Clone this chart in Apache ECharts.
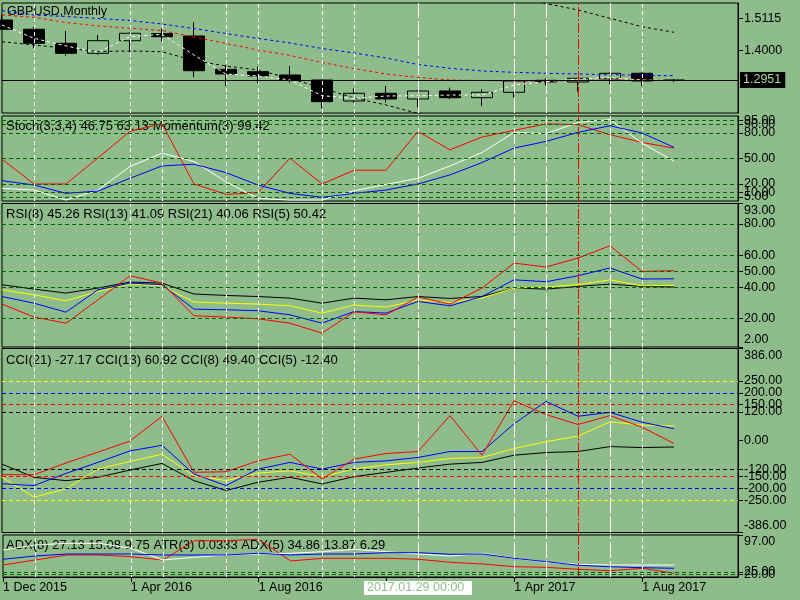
<!DOCTYPE html>
<html><head><meta charset="utf-8">
<script src="https://cdn.jsdelivr.net/npm/echarts@6/dist/echarts.min.js"></script>
<style>html,body{margin:0;padding:0;background:#8FBC8B;}#c{width:800px;height:600px;}</style>
</head><body><div id="c"></div>
<script>
// ---------- data ----------
const months = ['1 Dec 2015','1 Jan 2016','1 Feb 2016','1 Mar 2016','1 Apr 2016','1 May 2016','1 Jun 2016','1 Jul 2016','1 Aug 2016','1 Sep 2016','1 Oct 2016','1 Nov 2016','1 Dec 2016','1 Jan 2017','1 Feb 2017','1 Mar 2017','1 Apr 2017','1 May 2017','1 Jun 2017','1 Jul 2017','1 Aug 2017','1 Sep 2017','1 Oct 2017','1 Nov 2017'];
const opens  = [1.5061,1.4736,1.4242,1.3890,1.4333,1.4580,1.4498,1.3327,1.3243,1.3127,1.2951,1.2212,1.2483,1.2283,1.2564,1.2329,1.2518,1.2940,1.2880,1.2990,1.3187,1.2935];
const closes = [1.4736,1.4242,1.3890,1.4333,1.4594,1.4474,1.3278,1.3162,1.3092,1.2951,1.2188,1.2483,1.2283,1.2564,1.2329,1.2518,1.2916,1.2880,1.3011,1.3187,1.2916,1.2951];
const lows   = [1.4724,1.4066,1.3806,1.3836,1.3946,1.4298,1.3046,1.2740,1.2835,1.2856,1.1956,1.2150,1.2153,1.1986,1.2272,1.2037,1.2329,1.2760,1.2540,1.2800,1.2740,1.2870];
const highs  = [1.5241,1.4826,1.4674,1.4534,1.4620,1.4769,1.4980,1.3479,1.3420,1.3443,1.2970,1.2659,1.2740,1.2600,1.2680,1.2624,1.2940,1.3020,1.3030,1.3222,1.3222,1.2990];
const maBlue  = [1.5388,1.5237,1.5184,1.5114,1.5044,1.4921,1.4762,1.4586,1.4411,1.4252,1.4059,1.3901,1.3725,1.3496,1.3362,1.3268,1.3222,1.3187,1.3162,1.3137,1.3116,1.3102];
const maRed   = [1.5237,1.5156,1.4973,1.4850,1.4769,1.4692,1.4463,1.4235,1.4006,1.3813,1.3566,1.3355,1.3162,1.3039,1.2951,1.2933,1.2916,1.2916,1.2933,1.2951,1.2951,1.2933];
const maWhite = [1.4885,1.4418,1.4147,1.3925,1.4474,1.4558,1.3830,1.3162,1.3092,1.2951,1.2399,1.2307,1.2388,1.2399,1.2423,1.2423,1.2775,1.2891,1.2986,1.3032,1.2951,1.2926];
const bandLow  = [1.4298,1.4182,1.4066,1.3953,1.3971,1.3946,1.3637,1.3443,1.3303,1.3011,1.2670,1.2318,1.2072,1.1773,1.1615,null,null,null,null,null,null,null];
const bandHigh = [null,null,null,null,null,null,null,null,null,null,null,null,null,null,null,null,1.5941,1.5641,1.5413,1.5121,1.4826,1.4629];
const lastPrice = 1.2951;

const stochMain   = [14.9,12.9,1.1,12.9,40.5,56.3,46.4,22.7,3.1,1.1,1.1,12.1,19.4,26.7,41.3,57.0,80.7,79.2,92.5,95.7,68.2,46.75];
const stochSignal = [23.9,18.8,9.0,11.7,26.7,41.3,43.3,33.4,18.8,9.0,4.3,9.0,12.9,20.0,30.7,45.2,62.2,70.1,80.7,88.6,80.0,63.13];
const momentum    = [49.2,20.0,20.0,50.8,81.9,91.0,20.0,7.8,9.7,50.4,20.0,36.2,36.2,81.9,60.2,75.3,83.1,90.7,89.8,78.0,68.9,62.2];

const rsi21 = [41.5,38.7,36.2,39.4,43.2,42.5,35.6,34.7,34.0,33.0,29.8,33.0,31.9,34.0,32.8,34.0,39.4,38.7,40.4,41.9,40.4,40.06];
const rsi13 = [38.3,35.1,31.3,37.2,41.9,40.8,30.5,29.8,29.2,28.1,23.5,28.6,27.3,31.9,30.2,33.0,39.4,40.0,41.5,44.6,40.8,41.09];
const rsi8  = [34.0,29.8,24.1,38.3,42.5,41.5,26.0,25.6,25.0,22.4,17.1,24.5,23.5,30.9,28.1,34.0,44.6,43.4,47.2,52.1,45.1,45.26];
const rsi5  = [29.2,21.0,17.1,31.9,47.2,42.5,21.8,21.0,19.9,17.1,10.8,24.3,22.4,33.7,29.2,39.4,55.2,52.7,58.4,66.2,49.9,50.42];

const cci21 = [-99.1,-154.3,-168.5,-154.3,-124.0,-96.2,-168.5,-210.0,-175.1,-154.3,-182.2,-151.8,-133.6,-115.7,-99.1,-92.0,-61.7,-50.5,-46.3,-25.5,-29.7,-27.17];
const cci13 = [-154.3,-237.4,-203.0,-119.9,-87.9,-57.5,-147.7,-168.5,-136.5,-126.9,-151.8,-119.9,-102.0,-92.0,-75.4,-71.3,-33.9,-4.8,18.5,78.3,64.2,60.92];
const cci8  = [-181.3,-189.2,-138.1,-91.6,-43.8,-20.1,-140.6,-189.2,-119.9,-92.0,-119.9,-92.0,-85.4,-71.3,-46.3,-46.3,70.0,163.9,101.6,118.2,76.7,49.40];
const cci5  = [-143.5,-143.5,-94.1,-48.8,-2.3,101.6,-133.6,-131.1,-85.4,-57.5,-161.4,-78.3,-54.6,-46.3,104.5,-61.7,166.8,108.7,67.1,104.5,55.9,-12.40];

const adxWhite = [67.7,77.5,80.8,80.8,71.1,48.2,53.5,58.0,59.9,61.3,64.4,69.1,64.4,59.9,56.0,61.3,51.5,43.7,39.8,38.4,38.4,38.4];
const adxBlue  = [49.6,56.0,59.9,59.9,59.9,58.0,58.0,58.0,61.3,58.0,59.9,59.9,62.5,62.5,59.3,59.9,51.5,44.9,37.9,35.1,33.2,32.0];
const atrRed   = [38.4,48.2,58.0,58.0,54.6,48.2,85.9,85.9,88.6,46.3,51.5,51.5,51.5,49.6,43.7,40.4,35.1,33.9,30.0,27.3,32.0,22.2];

const mainTicks  = [1.5115, 1.4000];
const stochTicks = [100,95,90,80,50,20,10,5,0];
const rsiTicks   = [93,80,60,50,40,20,2];
const cciTicks   = [386,250,200,150,120,0,-120,-150,-200,-250,-386];
const adxTicks   = [97,25,20,15];
const stochLevels = [95,90,80,50,20,10,5];
const rsiLevels   = [80,60,50,40,20];
const cciLevels   = [250,200,150,120,-120,-150,-200,-250];
const adxLevels   = [25,20];

const sepShort = ['1 Jan 2016','1 Apr 2016','1 May 2016','1 Jul 2016','1 Aug 2016','1 Oct 2016','1 Nov 2016','1 Aug 2017'];
const sepLong  = ['1 Jan 2017','1 Apr 2017','1 May 2017','1 Jul 2017'];
const sepRed   = ['1 Jun 2017'];

const titles = ['GBPUSD,Monthly',
  'Stoch(3,3,4) 46.75 63.13 Momentum(3) 99.42',
  'RSI(8) 45.26 RSI(13) 41.09 RSI(21) 40.06 RSI(5) 50.42',
  'CCI(21) -27.17 CCI(13) 60.92 CCI(8) 49.40 CCI(5) -12.40',
  'ADX(8) 27.13 15.08 9.75 ATR(3) 0.0333 ADX(5) 34.86 13.87 6.29'];
const crosshairText = '2017.01.29 00:00';

// ---------- layout / style ----------
const BG = '#8FBC8B';
const FF = '"Liberation Sans", Arial, sans-serif';
const FS = 12.5;
const FT = 13;
const grids = [
  {left:2, width:736, top:3, height:110},
  {left:2, width:736, top:116, height:85},
  {left:2, width:736, top:203.5, height:143.5},
  {left:2, width:736, top:348.5, height:184},
  {left:2, width:736, top:535, height:42}
];
const ranges = [[1.1790,1.5659],[0,100],[2,93],[-386,386],[15,97]];
const tickSets = [mainTicks, stochTicks, rsiTicks, cciTicks, adxTicks];
const decs = [4,2,2,2,2];
const titleY = [12, 126.5, 214.7, 360, 545.7];

function yAx(i){
  const [mn,mx] = ranges[i], d = decs[i], ticks = tickSets[i];
  return {
    type:'value', gridIndex:i, position:'right', min:mn, max:mx,
    axisLine:{show:true, lineStyle:{color:'#000', width:1}},
    axisTick:{show:true, length:5, customValues:ticks, lineStyle:{color:'#000'}},
    axisLabel:{show:true, customValues:ticks, margin:6, color:'#000', fontFamily:FF, fontSize:FS,
      formatter:(v)=>{
        const s = Number(v).toFixed(d);
        if (i>0 && v===mx) return '{t|'+s+'}';
        if (i>0 && v===mn) return '{b|'+s+'}';
        return s;
      },
      rich:{
        t:{padding:[14,0,0,0], color:'#000', fontFamily:FF, fontSize:FS},
        b:{padding:[0,0,14,0], color:'#000', fontFamily:FF, fontSize:FS}
      }},
    splitLine:{show:false}
  };
}
function xAx(i){
  const last = i===4;
  return {
    type:'category', gridIndex:i, data:months, boundaryGap:false,
    axisLine:{show:last, lineStyle:{color:'#000'}},
    axisTick:{show:last, interval:3, length:5, lineStyle:{color:'#000'}},
    axisLabel:{show:last, interval:3, align:'left', margin:4, color:'#000', fontFamily:FF, fontSize:FS},
    splitLine:{show:false}
  };
}
function line(i, data, color, dash, z){
  return {type:'line', xAxisIndex:i, yAxisIndex:i, data, symbol:'none', smooth:false,
    lineStyle:{color, width:1, type: dash || 'solid'}, z: z||3, silent:true, connectNulls:false};
}
function guides(i, levels, levelColor){
  const d = [];
  sepShort.forEach(m=>d.push({xAxis:m, lineStyle:{color:'#fff', type:[4,3], width:1}}));
  sepLong.forEach(m=>d.push({xAxis:m, lineStyle:{color:'#fff', type:[16,3], width:1}}));
  sepRed.forEach(m=>d.push({xAxis:m, lineStyle:{color:'#f00', type:[10,2,2,2], width:1}}));
  (levels||[]).forEach(v=>d.push({yAxis:v, lineStyle:{color: levelColor ? levelColor(v) : '#006400', type:[4,3], width:1}}));
  return {type:'line', xAxisIndex:i, yAxisIndex:i, data:[], z:1, silent:true,
    markLine:{silent:true, symbol:['none','none'], label:{show:false}, animation:false, data:d}};
}
const cciColor = v => ({250:'#FFFF00',200:'#0000FF',150:'#FF0000',120:'#000000'})[Math.abs(v)];

const series = [
  guides(0, []),
  {type:'candlestick', xAxisIndex:0, yAxisIndex:0, barWidth:21, z:2, silent:true,
   data: opens.map((o,k)=>[o, closes[k], lows[k], highs[k]]),
   itemStyle:{color:BG, color0:'#000', borderColor:'#000', borderColor0:'#000', borderWidth:1},
   markLine:{silent:true, symbol:['none','none'], animation:false, precision:4,
     lineStyle:{color:'#000', type:'solid', width:1},
     label:{show:true, position:'end', distance:2, formatter:()=>lastPrice.toFixed(4),
       backgroundColor:'#000', color:'#A9D9A4', fontFamily:FF, fontSize:FS, padding:[2,4,1,3]},
     data:[{yAxis:lastPrice}]}},
  line(0, bandLow, '#000', [3,3]),
  line(0, bandHigh, '#000', [3,3]),
  line(0, maBlue, '#0000FF', [3,3]),
  line(0, maRed, '#FF0000', [3,3]),
  line(0, maWhite, '#FFFFFF', [3,3]),

  guides(1, stochLevels),
  line(1, momentum, '#FF0000'),
  line(1, stochMain, '#FFFFFF'),
  line(1, stochSignal, '#0000FF'),

  guides(2, rsiLevels),
  line(2, rsi21, '#000000'),
  line(2, rsi13, '#FFFF00'),
  line(2, rsi8, '#0000FF'),
  line(2, rsi5, '#FF0000'),

  guides(3, cciLevels, cciColor),
  line(3, cci21, '#000000'),
  line(3, cci13, '#FFFF00'),
  line(3, cci8, '#0000FF'),
  line(3, cci5, '#FF0000'),

  guides(4, adxLevels),
  line(4, atrRed, '#FF0000'),
  line(4, adxWhite, '#FFFFFF'),
  line(4, adxBlue, '#0000FF')
];

const graphic = titles.map((t,k)=>({
  type:'text', x: k===0 ? 7 : 6, y:titleY[k], z:1.5, silent:true,
  style:{text:t, font: (k===0 ? FS : FT)+'px '+FF, fill:'#000', verticalAlign:'middle', align:'left',
    backgroundColor:BG, padding:[0,2,0,0]}
}));
graphic.push({type:'rect', shape:{x:364, y:581, width:108, height:14}, z:100, silent:true,
  style:{fill:'#fff'}});
graphic.push({type:'text', x:367, y:588, z:101, silent:true,
  style:{text:crosshairText, font: FS+'px '+FF, fill:'#8FBC8B', verticalAlign:'middle', align:'left'}});

const chart = echarts.init(document.getElementById('c'), null, {renderer:'canvas'});
chart.setOption({
  animation:false,
  backgroundColor:BG,
  grid: grids.map(g=>Object.assign({show:true, borderColor:'#000', borderWidth:1, backgroundColor:'transparent', containLabel:false}, g)),
  xAxis: [0,1,2,3,4].map(xAx),
  yAxis: [0,1,2,3,4].map(yAx),
  series,
  graphic
});
</script></body></html>
